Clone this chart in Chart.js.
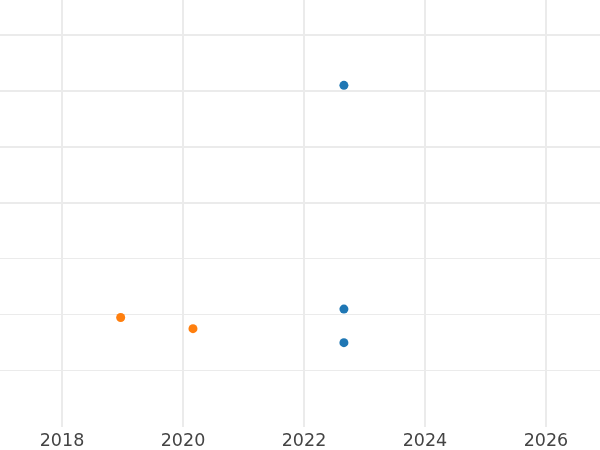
<!DOCTYPE html>
<html>
<head>
<meta charset="utf-8">
<script src="https://cdn.jsdelivr.net/npm/chart.js@4/dist/chart.umd.min.js"></script>
<style>
  html, body { margin: 0; padding: 0; background: #ffffff; }
  #wrap { width: 600px; height: 450px; }
</style>
</head>
<body>
<div id="wrap"><canvas id="c" width="600" height="450"></canvas></div>
<script>
// Data (x in decimal years, y in arbitrary units)
const blueX = [2022.66, 2022.66, 2022.66];
const blueY = [122, 42, 30];
const orangeX = [2018.97, 2020.165];
const orangeY = [39, 35];
const xTicks = [2018, 2020, 2022, 2024, 2026];
const yTicks = [20, 40, 60, 80, 100, 120, 140];

const toPts = (xs, ys) => xs.map((x, i) => ({ x: x, y: ys[i] }));

new Chart(document.getElementById('c'), {
  type: 'scatter',
  data: {
    datasets: [
      {
        label: 'A',
        data: toPts(blueX, blueY),
        backgroundColor: '#1f77b4',
        borderColor: '#1f77b4',
        pointRadius: 4.5,
        borderWidth: 0
      },
      {
        label: 'B',
        data: toPts(orangeX, orangeY),
        backgroundColor: '#ff7f0e',
        borderColor: '#ff7f0e',
        pointRadius: 4.5,
        borderWidth: 0
      }
    ]
  },
  options: {
    responsive: false,
    animation: false,
    layout: { padding: 0, autoPadding: false },
    plugins: { legend: { display: false }, tooltip: { enabled: false } },
    scales: {
      x: {
        type: 'linear',
        min: 2016.975,
        max: 2026.893,
        afterBuildTicks: (s) => { s.ticks = xTicks.map(v => ({ value: v })); },
        afterFit: (s) => { s.height = 23.4; },
        border: { display: false },
        grid: { color: '#ebebeb', lineWidth: 2, drawTicks: false },
        ticks: {
          padding: 4.5,
          maxRotation: 0,
          color: '#444444',
          font: { family: 'DejaVu Sans', size: 17.5 },
          callback: (v) => String(v)
        }
      },
      y: {
        type: 'linear',
        min: 0,
        max: 152.5,
        afterBuildTicks: (s) => { s.ticks = yTicks.map(v => ({ value: v })); },
        afterFit: (s) => { s.width = 0; },
        border: { display: false },
        grid: {
          color: '#ebebeb',
          lineWidth: (ctx) => (ctx.tick && ctx.tick.value >= 80 ? 2 : 1),
          drawTicks: false
        },
        ticks: { display: false }
      }
    }
  }
});
</script>
</body>
</html>
